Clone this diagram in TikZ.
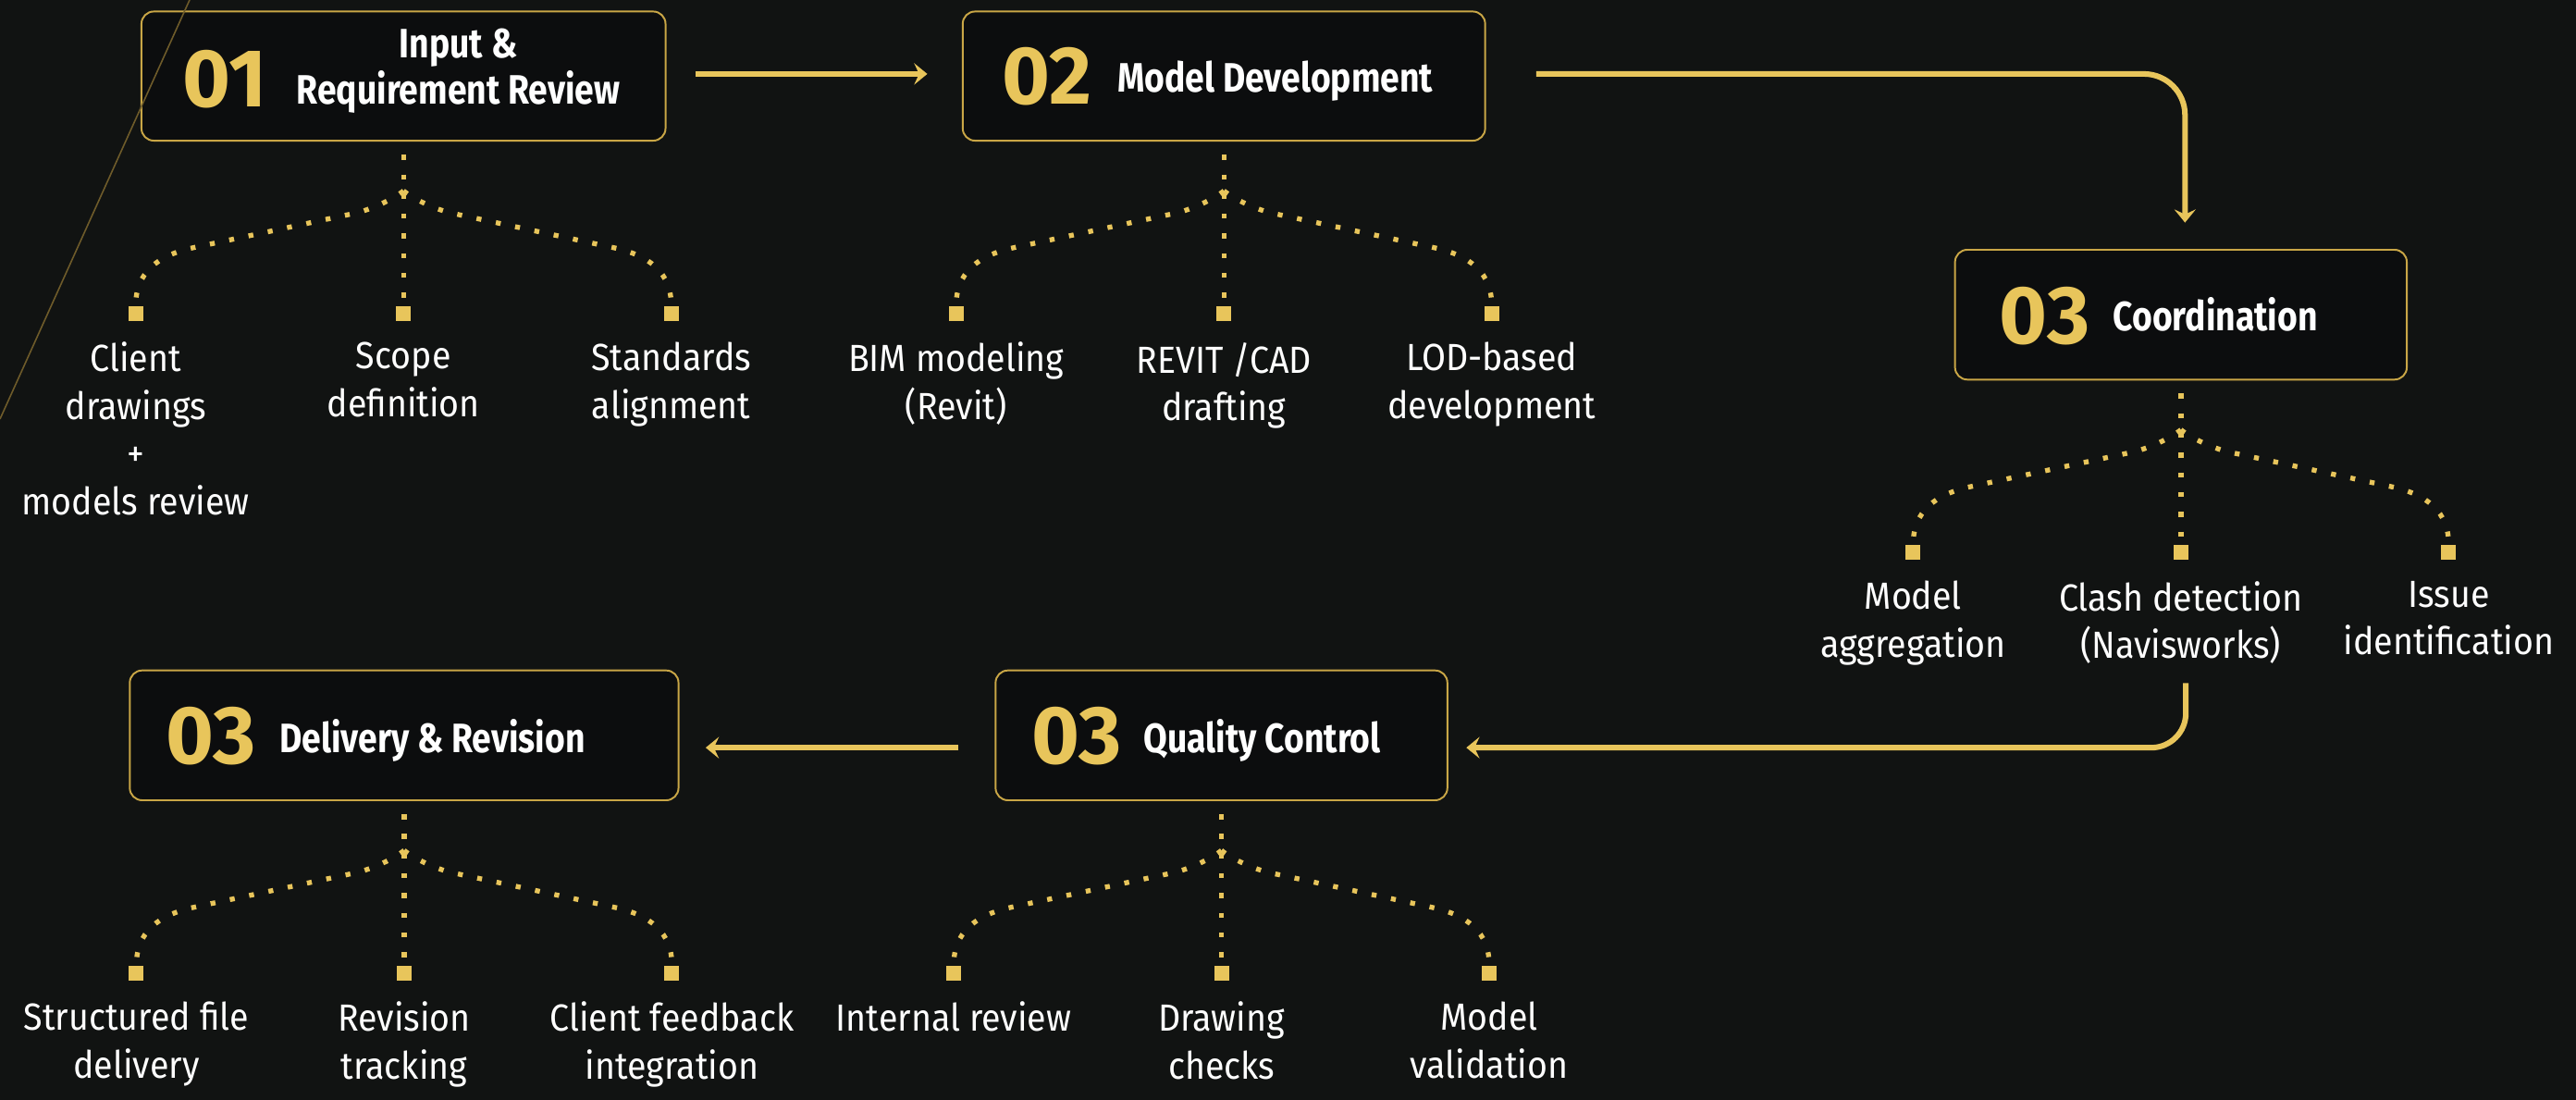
\documentclass[tikz,border=0pt]{standalone}
\usepackage{fontspec}
\setmainfont[FakeStretch=0.92]{Fira Sans}
\newfontfamily\headfont[FakeStretch=0.84]{Fira Sans}
\newfontfamily\numberfont[FakeStretch=1.0]{Fira Sans}
\usetikzlibrary{arrows.meta,calc}
\definecolor{bg}{HTML}{111312}
\definecolor{boxbg}{HTML}{0C0D0E}
\definecolor{gold}{HTML}{E8C55B}
\definecolor{goldline}{HTML}{C9A646}
\definecolor{golddim}{HTML}{6E5B2A}
\tikzset{
  box/.style={draw=goldline, line width=1.1pt, rounded corners=7.5pt, fill=boxbg, inner sep=0pt},
  num/.style={text=gold, font=\numberfont\bfseries\fontsize{50}{50}\selectfont, inner sep=0pt, anchor=base west},
  head/.style={text=white, font=\headfont\bfseries\fontsize{25}{28}\selectfont, inner sep=0pt},
  lbl/.style={text=white, font=\fontsize{23}{29}\selectfont, inner sep=0pt, anchor=north, align=center},
  sq/.style={fill=gold, minimum size=9pt, inner sep=0pt},
  dots/.style={draw=gold, line width=3pt, dash pattern=on 3pt off 9pt},
  flow/.style={draw=gold, line width=3.4pt, -{Stealth[length=8pt,width=13pt,inset=3pt]}},
}
\newcommand\branchtree[5]{%
  \coordinate (#2j) at ($(#1.south)+(0,30)$);
  \node[sq] (#2a) at ($(#1.south)+(-163,104.5)$) {};
  \node[sq] (#2b) at ($(#1.south)+(0,104.5)$) {};
  \node[sq] (#2c) at ($(#1.south)+(163,104.5)$) {};
  \node[lbl] (#2la) at ($(#2a.center)+(0,17.5)$) {#3};
  \node[lbl] (#2lb) at ($(#2b.center)+(0,17.5)$) {#4};
  \node[lbl] (#2lc) at ($(#2c.center)+(0,17.5)$) {#5};
  \draw[dots] ($(#1.south)+(0,8)$) -- (#2b.north);
  \begin{scope}[shift={(#2j)}]
    \draw[dots] (0,0) .. controls (-6,5) and (-20,11.56) .. (-30,13.7) -- (-128,34.6) .. controls (-150,39.3) and (-163,50) .. (#2a.north);
  \end{scope}
  \begin{scope}[shift={(#2j)}, xscale=-1]
    \draw[dots] (0,0) .. controls (-6,5) and (-20,11.56) .. (-30,13.7) -- (-128,34.6) .. controls (-150,39.3) and (-163,50) .. (#2c.north);
  \end{scope}
}
\begin{document}
\begin{tikzpicture}[x=1pt, y=-1pt]
  \useasboundingbox (0,0) rectangle (1568,669.4);
  \fill[bg] (0,0) rectangle (1568,669.4);

  % boxes
  \node[box, minimum width=319pt, minimum height=78.6pt] (b1) at (245.6,46.3) {};
  \node[box, minimum width=318pt, minimum height=78.6pt] (b2) at (745,46.3) {};
  \node[box, minimum width=275pt, minimum height=79pt] (b3) at (1327.5,191.5) {};
  \node[box, minimum width=275pt, minimum height=79pt] (b4) at (743.5,447.5) {};
  \node[box, minimum width=334pt, minimum height=79pt] (b5) at (246,447.5) {};

  % decorative diagonal
  \draw[golddim, line width=0.9pt] (115.4,0) -- (0,255);

  % titles
  \node[num] (n1) at (111,65) {01};
  \node[head, anchor=north, align=center] (h1) at (279,17.5) {Input \&\\Requirement Review};
  \node[num] (n2) at (610,63.5) {02};
  \node[head, anchor=base west] (h2) at (680,56) {Model Development};
  \node[num] (n3) at (1217,209) {03};
  \node[head, anchor=base west] (h3) at (1286,201.5) {Coordination};
  \node[num] (n4) at (628,465) {03};
  \node[head, anchor=base west] (h4) at (696,458) {Quality Control};
  \node[num] (n5) at (101,465) {03};
  \node[head, anchor=base west] (h5) at (170,458) {Delivery \& Revision};

  % trees
  \branchtree{b1}{t1}{Client\\drawings\\+\\models review}{Scope\\definition}{Standards\\alignment}
  \branchtree{b2}{t2}{BIM modeling\\(Revit)}{REVIT /CAD\\drafting}{LOD-based\\development}
  \branchtree{b3}{t3}{Model\\aggregation}{Clash detection\\(Navisworks)}{Issue\\identification}
  \branchtree{b4}{t4}{Internal review}{Drawing\\checks}{Model\\validation}
  \branchtree{b5}{t5}{Structured file\\delivery}{Revision\\tracking}{Client feedback\\integration}

  % flow arrows
  \draw[flow] ($(b1.east)+(18,-1.3)$) -- ($(b2.west)+(-21,-1.3)$);
  \draw[flow, rounded corners=25pt] ($(b2.east)+(30.5,-1.3)$) -| ($(b3.north)+(2.5,-16)$);
  \coordinate (qs) at (1330.5,415.7);
  \draw[flow, rounded corners=21pt] (qs) |- ($(b4.east)+(11,7.5)$);
  \draw[flow] ($(b4.west)+(-22,7.5)$) -- ($(b5.east)+(16,7.5)$);
\end{tikzpicture}
\end{document}
